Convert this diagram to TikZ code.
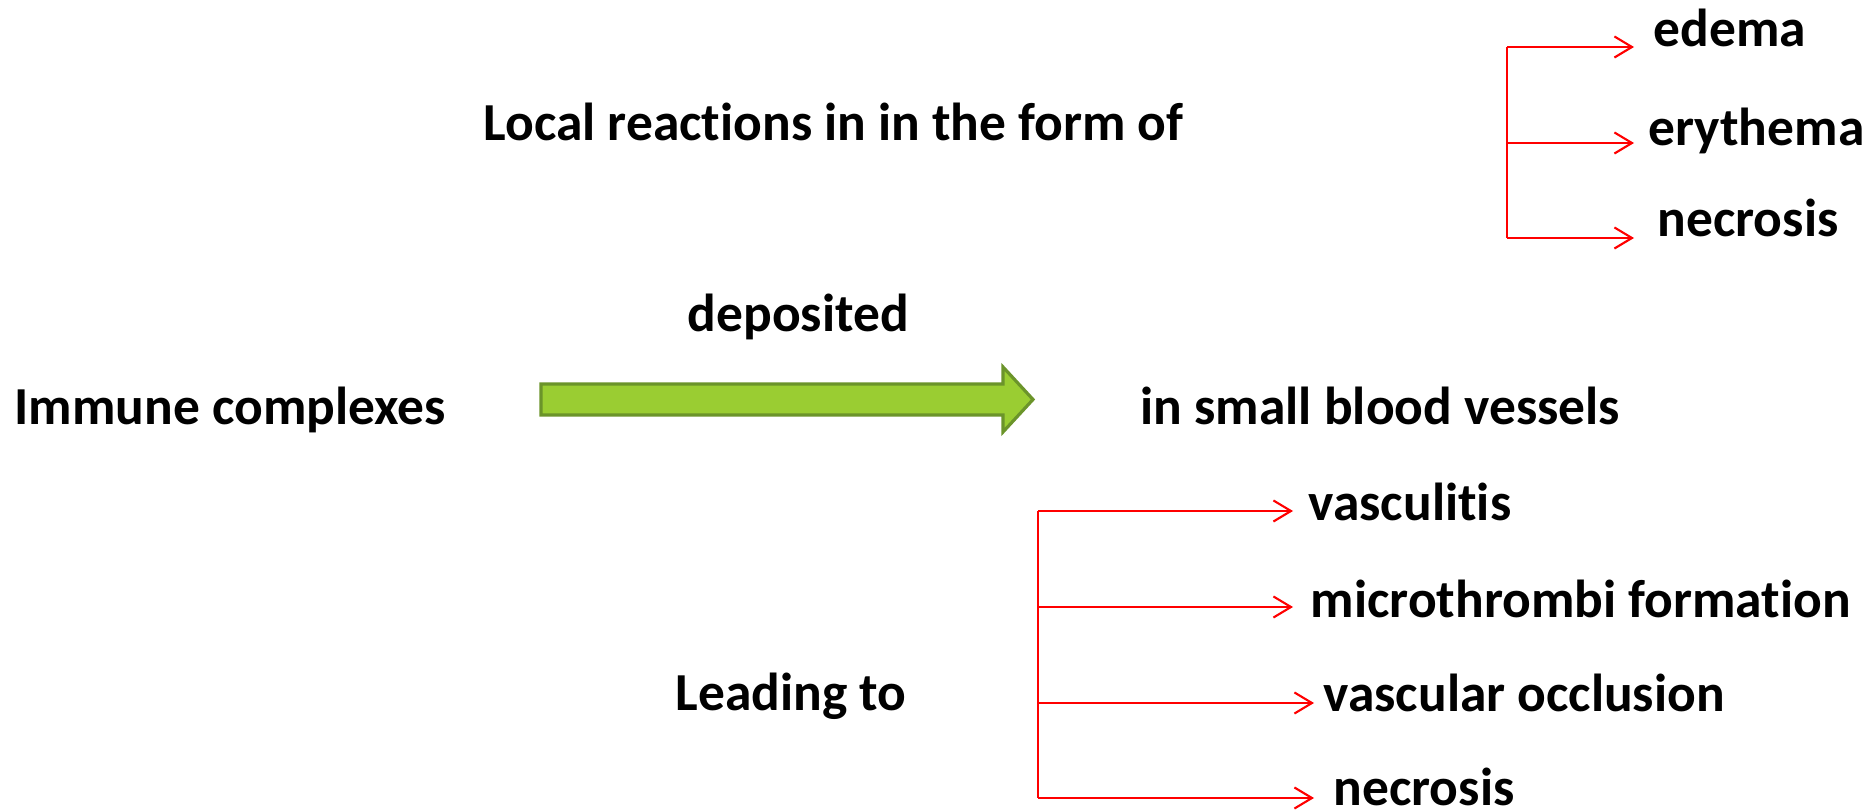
\documentclass[tikz,border=0pt]{standalone}
\usepackage{fontspec}
\setmainfont[Ligatures=NoCommon]{Carlito}
\usetikzlibrary{arrows.meta}

\definecolor{leafgreen}{RGB}{154,205,50}
\definecolor{leafedge}{RGB}{107,148,42}

\begin{document}
\begin{tikzpicture}[x=0.01cm, y=-0.01cm,
	txt/.style={font=\bfseries\fontsize{15.2}{18}\selectfont, inner sep=0pt, anchor=base west},
	trunk/.style={red, line width=0.6pt},
	branch/.style={red, line width=0.6pt, -{Straight Barb[length=5pt, width=6pt]}}]
	% Frame
	\useasboundingbox (0,0) rectangle (1870,810);
	
	% Main line
	\node[txt] (IC) at (14,425) {Immune complexes};
	\node[txt] (dep) at (687,332) {deposited};
	\node[txt] (SBV) at (1140,425) {in small blood vessels};
	
	% Green arrow
	\draw[fill=leafgreen, draw=leafedge, line width=0.9pt]
		(541,384) -- (1003,384) -- (1003,367) -- (1033,399.5)
		-- (1003,432) -- (1003,415) -- (541,415) -- cycle;
	
	% Local reactions
	\node[txt] (LR) at (483,141) {Local reactions in in the form of};
	\node[txt] (ed) at (1653,47) {edema};
	\node[txt] (ery) at (1648,146) {erythema};
	\node[txt] (nec1) at (1657,237) {necrosis};
	
	\coordinate (t1) at (1507,47);
	\coordinate (t2) at (1507,143);
	\coordinate (t3) at (1507,238);
	\coordinate (tipA) at (1634,0);
	\draw[trunk] (t1) -- (t3);
	\draw[branch] (t1) -- (t1 -| tipA);
	\draw[branch] (t2) -- (t2 -| tipA);
	\draw[branch] (t3) -- (t3 -| tipA);
	
	% Leading to
	\node[txt] (LT) at (675,710) {Leading to};
	\node[txt] (vas) at (1308,521) {vasculitis};
	\node[txt] (mic) at (1310,618) {microthrombi formation};
	\node[txt] (occ) at (1323,711) {vascular occlusion};
	\node[txt] (nec2) at (1333,805) {necrosis};
	
	\coordinate (b1) at (1038,511);
	\coordinate (b2) at (1038,607);
	\coordinate (b3) at (1038,703);
	\coordinate (b4) at (1038,798);
	\coordinate (tipB) at (1293,0);
	\coordinate (tipC) at (1314,0);
	\draw[trunk] (b1) -- (b4);
	\draw[branch] (b1) -- (b1 -| tipB);
	\draw[branch] (b2) -- (b2 -| tipB);
	\draw[branch] (b3) -- (b3 -| tipC);
	\draw[branch] (b4) -- (b4 -| tipC);
\end{tikzpicture}
\end{document}
